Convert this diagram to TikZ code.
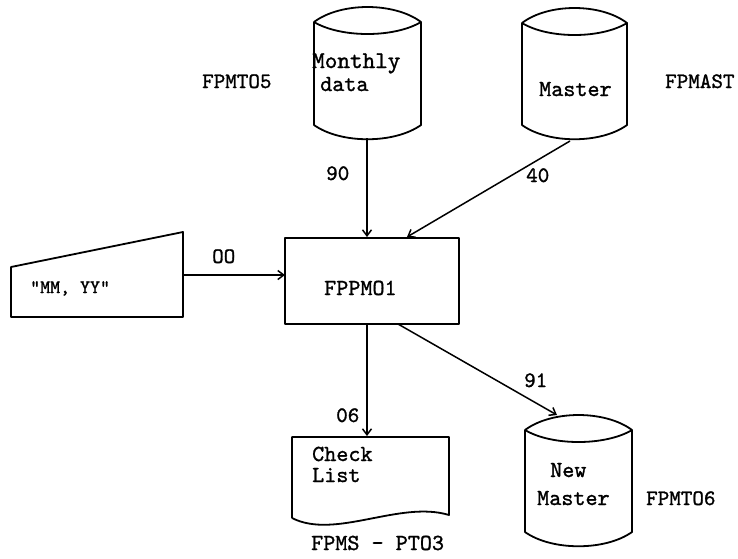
\documentclass[tikz,border=0pt]{standalone}
\usepackage{fontspec}
\newfontfamily\typer{lmmono10-regular.otf}[FakeBold=1.2]
\usetikzlibrary{arrows.meta}

% disk drum: left x, right x, top rim y, bottom rim y
\newcommand\drum[4]{%
  \draw[outline] (#1,#3)
    .. controls ({#1+0.25*(#2-#1)},{#3-20}) and ({#2-0.25*(#2-#1)},{#3-20}) .. (#2,#3)
    .. controls ({#2-0.25*(#2-#1)},{#3+16}) and ({#1+0.25*(#2-#1)},{#3+16}) .. (#1,#3)
    -- (#1,#4)
    .. controls ({#1+0.25*(#2-#1)},{#4+19}) and ({#2-0.25*(#2-#1)},{#4+19}) .. (#2,#4)
    -- (#2,#3);
}

\begin{document}
\begin{tikzpicture}[x=1pt,y=-1pt,
  outline/.style={line width=1.8pt, line join=round},
  flow/.style={line width=1.5pt, -{Straight Barb[length=6pt,width=9pt]}},
  txt/.style={font=\fontsize{23}{23}\selectfont\typer, inner sep=0pt, anchor=base west},
  tag/.style={font=\fontsize{22}{22}\selectfont\typer, inner sep=0pt, anchor=base west},
  small/.style={font=\fontsize{19}{19}\selectfont\typer, inner sep=0pt, anchor=base west}]
\useasboundingbox (0,0) rectangle (738,558);

% files
\drum{314}{421}{22}{125}
\drum{522}{627}{23}{125}
\drum{525}{632}{430}{532}

% manual input
\draw[outline] (11,267) -- (183,232) -- (183,317) -- (11,317) -- cycle;

% program box
\node[outline, draw, minimum width=174pt, minimum height=86pt, inner sep=0pt] (prog) at (372,281) {};

% printed report
\draw[outline] (292,518) -- (292,437) -- (449,437) -- (449,515)
  .. controls (400,500) and (335,540) .. (292,518);

% connection points
\coordinate (mdOut) at (367,138);
\coordinate (msOut) at (570,141);
\coordinate (inOut) at (183,275);
\coordinate (progIn) at (285,275);
\coordinate (progTopA) at (367,237);
\coordinate (progTopB) at (407,237);
\coordinate (progBotA) at (367,324);
\coordinate (progBotB) at (398,324);
\coordinate (ckIn) at (367,436);
\coordinate (nmIn) at (557,415);

\draw[flow] (mdOut) -- (progTopA);
\draw[flow] (msOut) -- (progTopB);
\draw[flow] (inOut) -- (progIn);
\draw[flow] (progBotA) -- (ckIn);
\draw[flow] (progBotB) -- (nmIn);

% texts
\node[txt, font=\fontsize{24}{24}\selectfont\typer] (t1) at (312,68) {Monthly};
\node[txt] (t2) at (320,91) {data};
\node[tag] (t3) at (202,88) {FPMTO5};
\node[txt] (t4) at (539,96) {Master};
\node[tag] (t5) at (665,88) {FPMAST};
\node[tag] (t6) at (326,180) {90};
\node[tag] (t7) at (526,182) {40};
\node[tag] (t8) at (212,263) {OO};
\node[small] (t9) at (30,293) {"MM, YY"};
\node[txt] (t10) at (324,295) {FPPMO1};
\node[tag] (t11) at (336,422) {06};
\node[tag] (t12) at (524,387) {91};
\node[txt] (t13) at (312,461) {Check};
\node[txt] (t14) at (312,482) {List};
\node[txt] (t15) at (311,550) {FPMS - PTO3};
\node[txt] (t16) at (550,477) {New};
\node[txt] (t17) at (537,505) {Master};
\node[tag] (t18) at (646,505) {FPMTO6};
\end{tikzpicture}
\end{document}
